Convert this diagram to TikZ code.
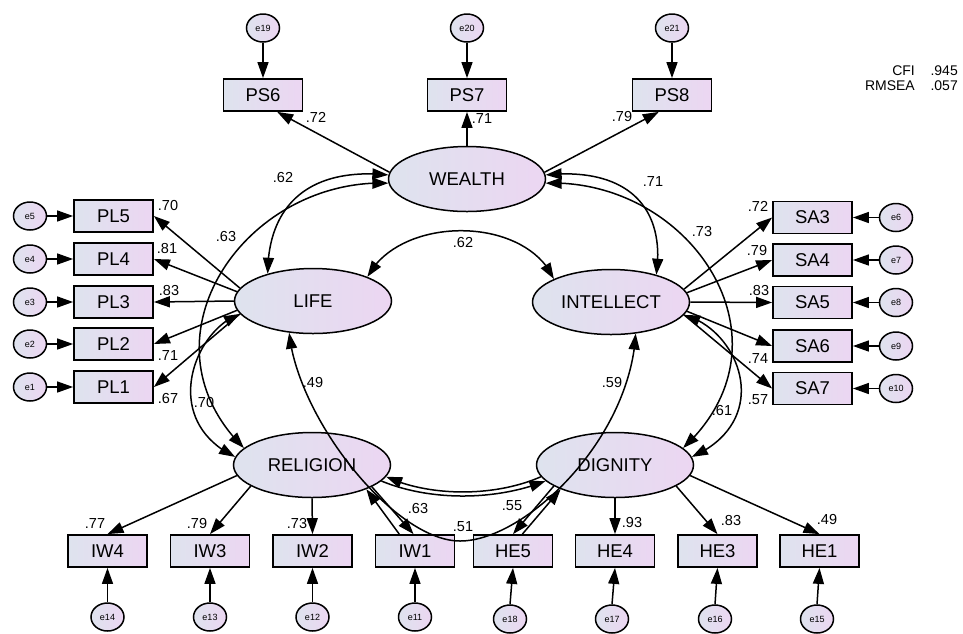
\documentclass[tikz,border=0pt]{standalone}
\usepackage{fontspec}
\setmainfont{Liberation Sans}
\usetikzlibrary{arrows.meta,bending,shapes.geometric}
\definecolor{gL}{RGB}{222,227,238}
\definecolor{gR}{RGB}{236,214,242}
\begin{document}
\begin{tikzpicture}[x=1pt,y=-1pt,
  lat/.style={ellipse, draw, line width=1.5pt, minimum width=157pt, minimum height=65pt, inner sep=0pt, left color=gL, right color=gR, font=\fontsize{18.5}{18.5}\selectfont},
  obs/.style={rectangle, draw, line width=1.8pt, minimum width=79pt, minimum height=32pt, inner sep=0pt, left color=gL, right color=gR, font=\fontsize{18.5}{18.5}\selectfont},
  err/.style={ellipse, draw, line width=1.5pt, minimum width=33pt, minimum height=28pt, inner sep=0pt, left color=gL, right color=gR, font=\fontsize{9}{9}\selectfont},
  ar/.style={line width=1.5pt, -{Triangle[length=16pt,width=11pt]}},
  dar/.style={line width=1.5pt, {Triangle[length=16pt,width=11pt]}-{Triangle[length=16pt,width=11pt]}},
  lab/.style={font=\fontsize{14.5}{14.5}\selectfont, inner sep=0pt},
  fit/.style={font=\fontsize{14}{14}\selectfont, inner sep=0pt, anchor=east},
]
\fill[white] (0,0) rectangle (963,633);
\useasboundingbox (0,0) rectangle (963,633);

% latent variables
\node[lat] (W) at (467,179) {WEALTH};
\node[lat] (L) at (313,301) {LIFE};
\node[lat] (I) at (611,302) {INTELLECT};
\node[lat] (R) at (312,465) {RELIGION};
\node[lat] (D) at (615,465) {DIGNITY};

% observed
\node[obs] (PS6) at (263,95) {PS6};
\node[obs] (PS7) at (467,95) {PS7};
\node[obs] (PS8) at (672,95) {PS8};
\node[obs] (PL5) at (113.5,216) {PL5};
\node[obs] (PL4) at (113.5,259) {PL4};
\node[obs] (PL3) at (113.5,302) {PL3};
\node[obs] (PL2) at (113.5,344) {PL2};
\node[obs] (PL1) at (113.5,387) {PL1};
\node[obs] (SA3) at (812.5,217.5) {SA3};
\node[obs] (SA4) at (812.5,260) {SA4};
\node[obs] (SA5) at (812.5,302.5) {SA5};
\node[obs] (SA6) at (812.5,346) {SA6};
\node[obs] (SA7) at (812.5,388.5) {SA7};
\node[obs] (IW4) at (107.5,551) {IW4};
\node[obs] (IW3) at (210,551) {IW3};
\node[obs] (IW2) at (312.5,551) {IW2};
\node[obs] (IW1) at (415,551) {IW1};
\node[obs] (HE5) at (513,551) {HE5};
\node[obs] (HE4) at (615,551) {HE4};
\node[obs] (HE3) at (717.5,551) {HE3};
\node[obs] (HE1) at (819.5,551) {HE1};

% errors
\node[err] (e19) at (263,28) {e19};
\node[err] (e20) at (467,28) {e20};
\node[err] (e21) at (672,28) {e21};
\node[err] (e5) at (30,216) {e5};
\node[err] (e4) at (30,259) {e4};
\node[err] (e3) at (30,302) {e3};
\node[err] (e2) at (30,344) {e2};
\node[err] (e1) at (30,387) {e1};
\node[err] (e6) at (896,217.5) {e6};
\node[err] (e7) at (896,260) {e7};
\node[err] (e8) at (896,302.5) {e8};
\node[err] (e9) at (896,346) {e9};
\node[err] (e10) at (896,388.5) {e10};
\node[err] (e14) at (107.5,617) {e14};
\node[err] (e13) at (210,617) {e13};
\node[err] (e12) at (312.5,617) {e12};
\node[err] (e11) at (415,617) {e11};
\node[err] (e18) at (510,619) {e18};
\node[err] (e17) at (612,619) {e17};
\node[err] (e16) at (715,619) {e16};
\node[err] (e15) at (817,619) {e15};

% error arrows
\foreach \e/\o in {e19/PS6,e20/PS7,e21/PS8}{\draw[ar] (\e.south) -- (\o.north);}
\foreach \e/\o in {e5/PL5,e4/PL4,e3/PL3,e2/PL2,e1/PL1}{\draw[ar] (\e.east) -- (\o.west);}
\foreach \e/\o in {e6/SA3,e7/SA4,e8/SA5,e9/SA6,e10/SA7}{\draw[ar] (\e.west) -- (\o.east);}
\foreach \e/\o in {e14/IW4,e13/IW3,e12/IW2,e11/IW1,e18/HE5,e17/HE4,e16/HE3,e15/HE1}{\draw[ar] (\e.north) -- (\o.south);}

% loadings
\draw[ar] (W.175) -- (PS6.-50);
\draw[ar] (W.north) -- (PS7.south);
\draw[ar] (W.5) -- (PS8.-128);
\draw[ar] (L.170) -- (PL5.east);
\draw[ar] (L.173) -- (PL4.east);
\draw[ar] (L.180) -- (PL3.east);
\draw[ar] (L.187) -- (PL2.east);
\draw[ar] (L.190) -- (PL1.east);
\draw[ar] (I.10) -- (SA3.west);
\draw[ar] (I.7) -- (SA4.west);
\draw[ar] (I.0) -- (SA5.west);
\draw[ar] (I.-7) -- (SA6.west);
\draw[ar] (I.-10) -- (SA7.west);
\draw[ar] (R.188) -- (IW4.north);
\draw[ar] (R.199) -- (IW3.north);
\draw[ar] (R.south) -- (IW2.north);
\draw[ar] (R.-20) -- (IW1.95);
\draw[ar] (IW1.133) -- (R.-24);
\draw[ar] (D.199) -- (HE5.north);
\draw[ar] (HE5.61) -- (D.204);
\draw[ar] (D.south) -- (HE4.north);
\draw[ar] (D.-19) -- (HE3.north);
\draw[ar] (D.-8) -- (HE1.north);

% correlations
\draw[dar] (W.177) .. controls (309,167) and (268,205) .. (L.149);
\draw[dar] (W.3) .. controls (625,167) and (666,205) .. (I.31);
\draw[dar] (W.183) .. controls (244,178) and (134,340) .. (R.166);
\draw[dar] (W.-3) .. controls (690,178) and (800,340) .. (D.14);
\draw[dar] (L.190) .. controls (194,330) and (159,420) .. (R.174);
\draw[dar] (I.-10) .. controls (740,330) and (775,420) .. (D.6);
\draw[dar] (L.24) .. controls (400,215) and (525,215) .. (I.158);
\draw[dar] (L.233) .. controls (298,420) and (395,541) .. (460,541) .. controls (525,541) and (630,440) .. (I.-52);
\draw[ar] (D.189) .. controls (495,497) and (430,497) .. (R.-9);
\draw[ar] (R.-13) .. controls (430,501) and (495,501) .. (D.193);

% labels
\node[lab] at (316,117) {.72};
\node[lab] at (482,119) {.71};
\node[lab] at (622,117) {.79};
\node[lab] at (283,178) {.62};
\node[lab] at (653,182) {.71};
\node[lab] at (226,237) {.63};
\node[lab] at (702,231) {.73};
\node[lab] at (463,242) {.62};
\node[lab] at (168,205) {.70};
\node[lab] at (167,248) {.81};
\node[lab] at (169,290) {.83};
\node[lab] at (168,356) {.71};
\node[lab] at (168,398) {.67};
\node[lab] at (758,206) {.72};
\node[lab] at (757,250) {.79};
\node[lab] at (759,290) {.83};
\node[lab] at (758,359) {.74};
\node[lab] at (758,400) {.57};
\node[lab] at (313,382) {.49};
\node[lab] at (612,382) {.59};
\node[lab] at (204,402) {.70};
\node[lab] at (722,410) {.61};
\node[lab] at (95,523) {.77};
\node[lab] at (197,523) {.79};
\node[lab] at (297,523) {.73};
\node[lab] at (418,508) {.63};
\node[lab] at (463,527) {.51};
\node[lab] at (512,506) {.55};
\node[lab] at (632,522) {.93};
\node[lab] at (731,520) {.83};
\node[lab] at (827,519) {.49};

% fit indices
\node[fit] (cfi) at (915,71) {CFI};
\node[fit] (rmsea) at (915,86) {RMSEA};
\node[fit] (cfiv) at (958,71) {.945};
\node[fit] (rmseav) at (958,86) {.057};
\end{tikzpicture}
\end{document}
